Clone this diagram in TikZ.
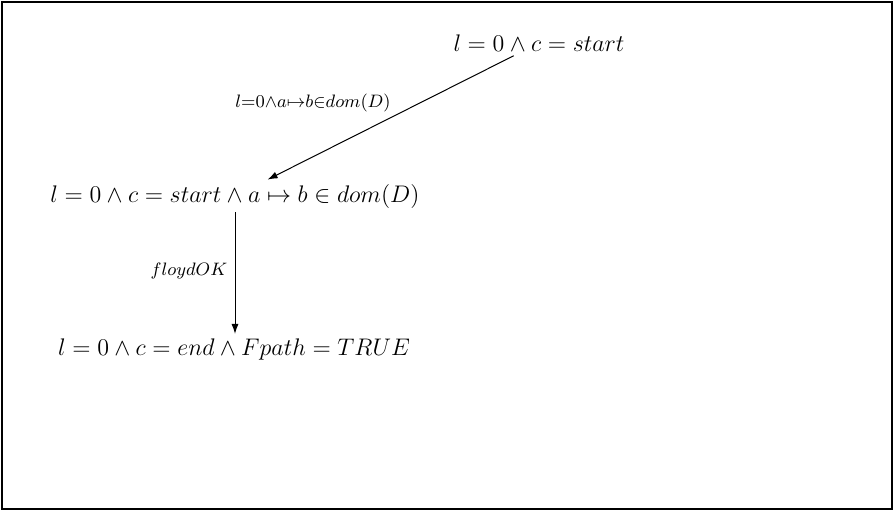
\documentclass[tikz,border=0pt]{standalone}
\usetikzlibrary{arrows.meta}
\begin{document}
\begin{tikzpicture}[x=0.5pt,y=-0.5pt,
  state/.style={inner sep=2pt,font=\fontsize{11.8}{14}\selectfont},
  trans/.style={draw,-{Latex[length=5pt,width=3.5pt]},line width=0.5pt},
  tlabel/.style={font=\fontsize{8.9}{10}\selectfont,inner sep=1pt}]
  \useasboundingbox (0,0) rectangle (895,511);
  \draw[line width=1.2pt] (2,2) rectangle (892,509);

  \node[state] (s0) at (539,43) {$l=0\wedge c=start$};
  \node[state] (s1) at (235,196) {$l=0\wedge c=start\wedge a\mapsto b\in dom(D)$};
  \node[state] (s2) at (234,349) {$l=0\wedge c=end\wedge Fpath=TRUE$};

  \draw[trans] (s0) -- (s1);
  \draw[trans] (s1.south -| 235,0) -- (s2.north -| 235,0);

  \node[tlabel,font=\fontsize{8.6}{10}\selectfont] (l0) at (313,103)
    {$l{=}0{\wedge}a{\mapsto}b{\in}dom(D)$};
  \node[tlabel] (l1) at (189,271) {$floydOK$};
\end{tikzpicture}
\end{document}
